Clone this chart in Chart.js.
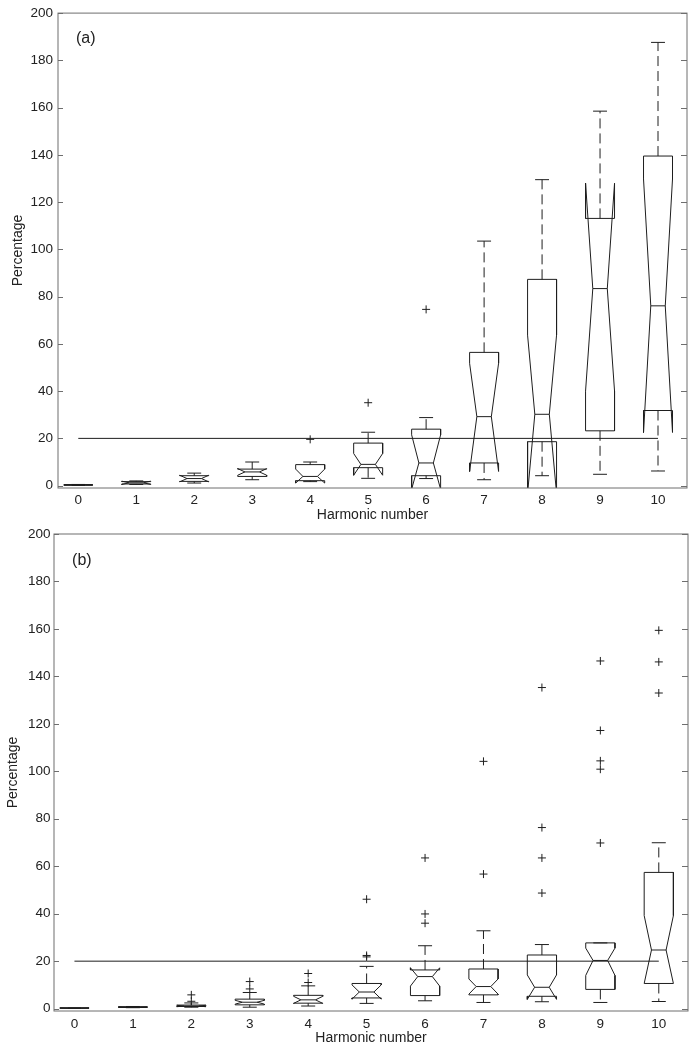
<!DOCTYPE html>
<html>
<head>
<meta charset="utf-8">
<script src="https://cdn.jsdelivr.net/npm/chart.js@4"></script>
<style>
  html, body { margin: 0; padding: 0; background: #fff; }
  #wrap { position: relative; width: 693px; height: 1050px; }
  canvas { position: absolute; left: 0; }
</style>
</head>
<body>
<div id="wrap">
  <canvas id="chartA" width="693" height="522" style="top:0"></canvas>
  <canvas id="chartB" width="693" height="528" style="top:522px"></canvas>
</div>
<script>
const harmonics = [0, 1, 2, 3, 4, 5, 6, 7, 8, 9, 10]
const yTicks = [0, 20, 40, 60, 80, 100, 120, 140, 160, 180, 200]
const limit = 20

// panel (a)
const q1A    = [0.2, 0.7, 1.8, 3.9, 2.1, 7.6, 4.2, 9.6, 18.6, 23.2, 31.8]
const medA   = [0.3, 1.2, 3.0, 5.8, 3.9, 9.0, 9.6, 29.2, 30.2, 83.4, 76.1]
const q3A    = [0.4, 1.7, 4.2, 7.0, 8.9, 18.0, 23.9, 56.4, 87.3, 113.1, 139.5]
const notchLoA = [0.2, 0.5, 1.6, 4.4, 1.1, 4.4, -1.5, 6.0, -3.3, 40.0, 22.5]
const notchHiA = [0.4, 1.9, 4.4, 7.2, 7.0, 13.6, 21.5, 51.8, 63.7, 128.0, 129.8]
const whiskLoA = [0.1, 0.5, 1.1, 2.5, 1.7, 3.1, 3.0, 2.5, 4.2, 4.8, 6.2]
const whiskHiA = [0.5, 2.0, 5.3, 10.0, 10.0, 22.6, 28.8, 103.5, 129.5, 158.5, 187.6]
const outliersA = [[], [], [], [], [19.6], [35.1], [74.6], [], [], [], []]

// panel (b)
const q1B    = [0.2, 0.5, 0.9, 1.6, 2.3, 4.5, 5.5, 5.8, 5.2, 8.1, 10.6]
const medB   = [0.2, 0.6, 1.1, 2.7, 3.7, 7.0, 13.5, 9.3, 9.0, 20.3, 24.7]
const q3B    = [0.3, 0.8, 1.5, 4.0, 5.6, 10.6, 16.3, 16.7, 22.6, 27.7, 57.4]
const notchLoB = [0.2, 0.5, 0.8, 1.9, 2.2, 4.0, 9.5, 6.1, 3.9, 14.0, 10.6]
const notchHiB = [0.3, 0.8, 1.4, 3.5, 5.2, 10.0, 17.2, 12.5, 14.2, 25.5, 39.2]
const whiskLoB = [0.1, 0.4, 0.6, 0.6, 1.1, 2.2, 3.3, 2.6, 2.9, 2.6, 3.0]
const whiskHiB = [0.3, 0.9, 2.4, 6.8, 9.6, 17.8, 26.5, 32.8, 27.0, 27.7, 69.9]
const outliersB = [[], [], [3.1, 5.8], [8.3, 11.4], [11.0, 14.8], [21.8, 22.4, 46.1],
    [36.0, 39.9, 63.5], [56.7, 104.2], [48.7, 63.5, 76.3, 135.3],
    [69.8, 100.9, 104.4, 117.2, 146.5], [133.0, 146.1, 159.4]]

const lineColor = '#1e1e1e'
const axisColor = '#6e6e6e'
const textColor = '#222'
const fontFamily = "'Liberation Sans', Arial, Helvetica, sans-serif"
const boxHalf = 0.25, notchHalf = 0.125, capHalf = 0.12

function boxDatasets(q1, med, q3, nLo, nHi, wLo, wHi, outl) {
    let outline = [], medians = [], whiskers = [], caps = [], crosses = []
    harmonics.forEach(function (h, i) {
        let l = h - boxHalf, r = h + boxHalf
        // notched box, MATLAB style (notch may stick out past the box)
        outline.push(
            {x: l, y: q1[i]}, {x: l, y: nLo[i]}, {x: h - notchHalf, y: med[i]},
            {x: l, y: nHi[i]}, {x: l, y: q3[i]}, {x: r, y: q3[i]},
            {x: r, y: nHi[i]}, {x: h + notchHalf, y: med[i]}, {x: r, y: nLo[i]},
            {x: r, y: q1[i]}, {x: l, y: q1[i]}, {x: h, y: null})
        medians.push({x: h - notchHalf, y: med[i]}, {x: h + notchHalf, y: med[i]}, {x: h, y: null})
        whiskers.push({x: h, y: q3[i]}, {x: h, y: wHi[i]}, {x: h, y: null},
            {x: h, y: q1[i]}, {x: h, y: wLo[i]}, {x: h, y: null})
        caps.push({x: h - capHalf, y: wHi[i]}, {x: h + capHalf, y: wHi[i]}, {x: h, y: null},
            {x: h - capHalf, y: wLo[i]}, {x: h + capHalf, y: wLo[i]}, {x: h, y: null})
        outl[i].forEach(function (v) { crosses.push({x: h, y: v}) })
    })
    let seg = {showLine: true, pointRadius: 0, borderColor: lineColor, borderWidth: 1, fill: false, spanGaps: false}
    return [
        Object.assign({label: 'limit', data: [{x: 0, y: limit}, {x: 10, y: limit}]}, seg),
        Object.assign({label: 'boxes', data: outline}, seg),
        Object.assign({label: 'medians', data: medians}, seg),
        Object.assign({label: 'whiskers', data: whiskers, borderDash: [10, 5]}, seg),
        Object.assign({label: 'caps', data: caps}, seg),
        {label: 'outliers', data: crosses, showLine: false, pointStyle: 'cross',
            pointRadius: 4, borderColor: lineColor, borderWidth: 1}
    ]
}

const frame = {
    id: 'frame',
    afterDraw(chart, args, opts) {
        const {ctx, chartArea: a, scales} = chart
        ctx.save()
        ctx.strokeStyle = axisColor
        ctx.lineWidth = 1
        ctx.strokeRect(a.left, a.top, a.right - a.left, a.bottom - a.top)
        yTicks.forEach(function (v) {
            let y = Math.round(scales.y.getPixelForValue(v)) + 0.5
            ctx.beginPath()
            ctx.moveTo(a.left, y); ctx.lineTo(a.left + 5, y)
            ctx.moveTo(a.right, y); ctx.lineTo(a.right - 6, y)
            ctx.stroke()
        })
        ctx.fillStyle = textColor
        ctx.font = '16px ' + fontFamily
        ctx.textBaseline = 'middle'
        ctx.textAlign = 'left'
        ctx.fillText(opts.tag, scales.x.getPixelForValue(-0.04), scales.y.getPixelForValue(189))
        ctx.restore()
    }
}

function makeChart(id, datasets, p) {
    return new Chart(document.getElementById(id), {
        type: 'scatter',
        data: {datasets: datasets},
        options: {
            responsive: false,
            animation: false,
            layout: {padding: {top: 12, right: p.right, left: 0, bottom: 0}},
            plugins: {legend: {display: false}, tooltip: {enabled: false}, frame: {tag: p.tag}},
            scales: {
                x: {
                    type: 'linear', min: -0.35, max: 10.5,
                    afterBuildTicks: function (axis) { axis.ticks = harmonics.map(v => ({value: v})) },
                    afterFit: function (axis) { axis.height = p.xH },
                    grid: {display: false, drawTicks: false},
                    border: {display: false},
                    ticks: {padding: p.xPad, color: textColor, font: {family: fontFamily, size: 13.5}},
                    title: {display: true, text: 'Harmonic number', color: textColor,
                        padding: {top: 0, bottom: p.xTitle}, font: {family: fontFamily, size: 14}}
                },
                y: {
                    type: 'linear', min: -1, max: 200,
                    afterBuildTicks: function (axis) { axis.ticks = yTicks.map(v => ({value: v})) },
                    afterFit: function (axis) { axis.width = p.yW },
                    grid: {display: false, drawTicks: false},
                    border: {display: false},
                    ticks: {padding: p.yPad, color: textColor, font: {family: fontFamily, size: 13.5}},
                    title: {display: true, text: 'Percentage', color: textColor,
                        padding: {top: p.yTitle, bottom: 0}, font: {family: fontFamily, size: 14}}
                }
            }
        },
        plugins: [frame]
    })
}

makeChart('chartA', boxDatasets(q1A, medA, q3A, notchLoA, notchHiA, whiskLoA, whiskHiA, outliersA),
    {tag: '(a)', right: 6, xH: 34, xPad: 4, xTitle: -2, yW: 58, yPad: 5, yTitle: 10})
makeChart('chartB', boxDatasets(q1B, medB, q3B, notchLoB, notchHiB, whiskLoB, whiskHiB, outliersB),
    {tag: '(b)', right: 1, xH: 39, xPad: 5, xTitle: 3, yW: 54, yPad: 3.5, yTitle: 4.5})
</script>
</body>
</html>
